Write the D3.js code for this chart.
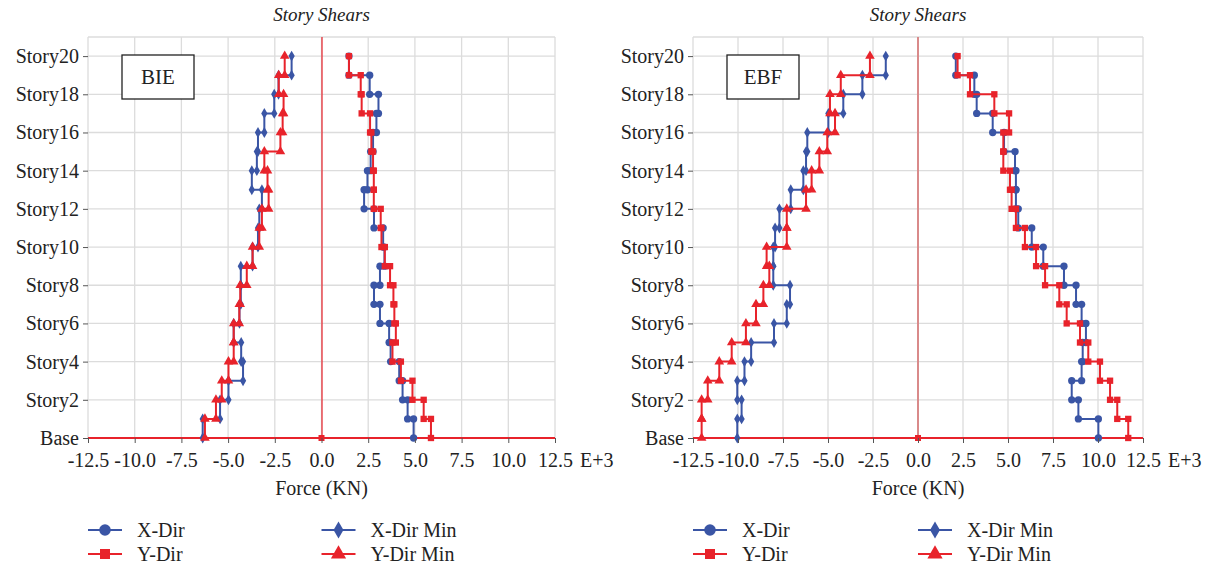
<!DOCTYPE html>
<html>
<head>
<meta charset="utf-8">
<script src="https://cdn.jsdelivr.net/npm/d3@7"></script>
<style>
body { margin: 0; background: #fff; }
text { font-family: "Liberation Serif", "DejaVu Serif", serif; fill: #222; }
</style>
</head>
<body>
<script>
// story levels: 0 = Base ... 20 = Story20 (labels every 2 stories)
var levelTicks = [0, 2, 4, 6, 8, 10, 12, 14, 16, 18, 20];
var levelLabels = ["Base", "Story2", "Story4", "Story6", "Story8", "Story10",
                   "Story12", "Story14", "Story16", "Story18", "Story20"];
var forceTicks = [-12.5, -10, -7.5, -5, -2.5, 0, 2.5, 5, 7.5, 10, 12.5];

// story shear, Story1 .. Story20, in E+3 KN
var bieXDir    = [4.93, 4.61, 4.34, 4.16, 3.7, 3.62, 3.13, 2.81, 3.13, 3.37, 3.3, 2.81, 2.28, 2.46, 2.63, 2.76, 2.94, 3.05, 2.58, 1.47];
var bieXDirMin = [-6.36, -5.43, -4.98, -4.2, -4.3, -4.7, -4.39, -4.32, -4.32, -3.69, -3.4, -3.33, -3.19, -3.73, -3.46, -3.4, -3.06, -2.53, -2.3, -1.6];
var bieYDir    = [5.86, 5.47, 4.87, 4.25, 3.8, 3.98, 3.9, 3.85, 3.67, 3.39, 3.21, 3.17, 2.8, 2.8, 2.76, 2.67, 2.6, 2.15, 2.1, 1.47];
var bieYDirMin = [-6.24, -5.65, -5.34, -4.98, -4.7, -4.7, -4.4, -4.35, -4.0, -3.69, -3.33, -3.19, -2.83, -2.89, -3.06, -2.2, -2.08, -2.03, -2.29, -1.97];

var ebfXDir    = [10.02, 8.91, 8.54, 9.09, 9.15, 9.33, 9.09, 8.78, 8.11, 6.96, 6.32, 5.57, 5.44, 5.44, 5.39, 4.78, 4.15, 3.26, 3.13, 2.1];
var ebfXDirMin = [-10.04, -9.8, -10.04, -9.64, -9.27, -8.0, -7.29, -7.11, -8.04, -8.04, -7.94, -7.7, -7.07, -6.37, -6.22, -6.15, -4.98, -4.15, -3.09, -1.79];
var ebfYDir    = [11.68, 11.07, 10.67, 10.11, 9.46, 9.0, 8.26, 7.85, 7.06, 6.56, 5.94, 5.44, 5.2, 5.11, 4.74, 4.74, 5.06, 4.24, 2.89, 2.2];
var ebfYDirMin = [-12.02, -12.02, -11.68, -11.04, -10.35, -9.56, -9.0, -8.59, -8.26, -8.41, -7.29, -7.29, -6.22, -5.91, -5.48, -5.04, -4.61, -4.89, -4.29, -2.67];

var width = 1208, height = 571;
var blue = "#3a55a5", red = "#e8232b", grid = "#dcdcdc";

var svg = d3.select("body").append("svg")
    .attr("width", width)
    .attr("height", height);

// series look, in drawing order (red on top of blue)
var styles = [
  {name: "X-Dir",     color: blue, symbol: d3.symbolCircle,   size: 42, col: 0, row: 0},
  {name: "X-Dir Min", color: blue, symbol: d3.symbolDiamond,  size: 34, col: 1, row: 0},
  {name: "Y-Dir",     color: red,  symbol: d3.symbolSquare,   size: 40, col: 0, row: 1},
  {name: "Y-Dir Min", color: red,  symbol: d3.symbolTriangle, size: 40, col: 1, row: 1}
];

// step points from the top story down to the base
function stepPoints(vals) {
  var pts = [];
  for (var k = vals.length; k >= 1; k--) {
    pts.push([vals[k - 1], k]);
    pts.push([vals[k - 1], k - 1]);
  }
  return pts;
}

function drawPanel(cfg) {
  var x = d3.scaleLinear().domain([-12.5, 12.5]).range([cfg.left, cfg.right]);
  var y = d3.scaleLinear().domain([0, 21]).range([438, 37]);
  var g = svg.append("g");

  // grid
  g.selectAll(".vgrid").data(forceTicks).enter().append("line")
      .attr("x1", function(d) { return x(d); }).attr("x2", function(d) { return x(d); })
      .attr("y1", y(0)).attr("y2", y(21))
      .attr("stroke", grid).attr("stroke-width", 1.3);
  g.selectAll(".hgrid").data(levelTicks.concat([21])).enter().append("line")
      .attr("x1", x(-12.5)).attr("x2", x(12.5))
      .attr("y1", function(d) { return y(d); }).attr("y2", function(d) { return y(d); })
      .attr("stroke", grid).attr("stroke-width", 1.3);

  // zero line and base line
  g.append("rect")
      .attr("x", Math.round(x(0)) - cfg.zeroWidth / 2).attr("y", y(21))
      .attr("width", cfg.zeroWidth).attr("height", y(0) - y(21))
      .attr("fill", cfg.zeroColor);
  g.append("line")
      .attr("x1", x(-12.5)).attr("x2", x(12.5)).attr("y1", y(0)).attr("y2", y(0))
      .attr("stroke", red).attr("stroke-width", 1.8);
  g.append("path")
      .attr("d", d3.symbol(d3.symbolSquare, 36)())
      .attr("transform", "translate(" + x(0) + "," + y(0) + ")")
      .attr("fill", red);

  var line = d3.line()
      .x(function(d) { return x(d[0]); })
      .y(function(d) { return y(d[1]); });

  cfg.series.forEach(function(vals, i) {
    var st = styles[i];
    var pts = stepPoints(vals);
    g.append("path")
        .attr("d", line(pts))
        .attr("fill", "none")
        .attr("stroke", st.color)
        .attr("stroke-width", 2);
    g.selectAll(".m" + i).data(pts).enter().append("path")
        .attr("d", d3.symbol(st.symbol, st.size)())
        .attr("transform", function(d) { return "translate(" + x(d[0]) + "," + y(d[1]) + ")"; })
        .attr("fill", st.color);
  });

  // axes
  var xAxis = g.append("g")
      .attr("transform", "translate(0," + y(0) + ")")
      .call(d3.axisBottom(x).tickValues(forceTicks).tickSize(5).tickPadding(10)
        .tickFormat(function(d) { return d.toFixed(1); }));
  xAxis.select(".domain").remove();
  xAxis.selectAll("line").attr("stroke", "#555");
  xAxis.selectAll("text").attr("font-size", 20).attr("font-family", null).attr("fill", "#222");
  g.append("text")
      .attr("x", x(12.5) + 25).attr("y", y(0) + 29)
      .attr("font-size", 20)
      .text("E+3");

  var yAxis = g.append("g")
      .attr("transform", "translate(" + x(-12.5) + ",0)")
      .call(d3.axisLeft(y).tickValues(levelTicks).tickSize(5).tickPadding(4)
        .tickFormat(function(d, i) { return levelLabels[i]; }));
  yAxis.select(".domain").remove();
  yAxis.selectAll("line").attr("stroke", "#555");
  yAxis.selectAll("text").attr("font-size", 20).attr("font-family", null).attr("fill", "#222");

  // titles
  g.append("text")
      .attr("x", x(0)).attr("y", 21)
      .attr("text-anchor", "middle")
      .attr("font-size", 19)
      .attr("font-style", "italic")
      .text("Story Shears");
  g.append("text")
      .attr("x", x(0)).attr("y", 495)
      .attr("text-anchor", "middle")
      .attr("font-size", 20)
      .text("Force (KN)");

  // frame label
  g.append("rect")
      .attr("x", cfg.left + 34).attr("y", 55)
      .attr("width", 72).attr("height", 44)
      .attr("fill", "#fff").attr("stroke", "#222").attr("stroke-width", 1.3);
  g.append("text")
      .attr("x", cfg.left + 70).attr("y", 84)
      .attr("text-anchor", "middle")
      .attr("font-size", 21)
      .text(cfg.label);

  // legend
  styles.forEach(function(st) {
    var lx = st.col === 0 ? cfg.left : x(0);
    var ly = 530 + st.row * 24;
    g.append("line")
        .attr("x1", lx).attr("x2", lx + 34).attr("y1", ly).attr("y2", ly)
        .attr("stroke", st.color).attr("stroke-width", 2);
    g.append("path")
        .attr("d", d3.symbol(st.symbol, st.size * 2.5)())
        .attr("transform", "translate(" + (lx + 17) + "," + ly + ")")
        .attr("fill", st.color);
    g.append("text")
        .attr("x", lx + 49).attr("y", ly + 7)
        .attr("font-size", 20)
        .text(st.name);
  });
}

drawPanel({
  left: 88, right: 555, label: "BIE",
  zeroColor: "#e8232b", zeroWidth: 1.2,
  series: [bieXDir, bieXDirMin, bieYDir, bieYDirMin]
});

drawPanel({
  left: 693, right: 1143, label: "EBF",
  zeroColor: "#d98a8a", zeroWidth: 2,
  series: [ebfXDir, ebfXDirMin, ebfYDir, ebfYDirMin]
});
</script>
</body>
</html>
